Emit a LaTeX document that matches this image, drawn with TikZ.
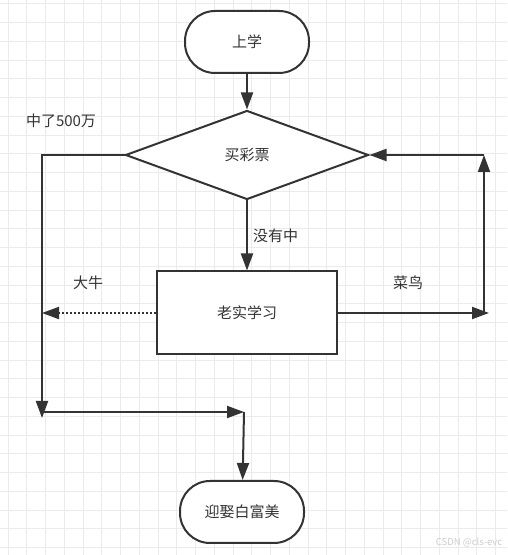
\documentclass[tikz,border=0pt]{standalone}
\usepackage{fontspec}
\newfontfamily\cjk{Noto Sans CJK SC}
\usetikzlibrary{shapes.geometric,arrows.meta,positioning}
\definecolor{ink}{HTML}{333333}
\definecolor{gridc}{HTML}{EBEBEB}
\begin{document}
\begin{tikzpicture}[
    x=1pt, y=1pt,
    every node/.style={font=\cjk\fontsize{15}{18}\selectfont, text=ink},
    term/.style={draw=ink, line width=2pt, fill=white, rounded corners=30pt, minimum width=124pt, minimum height=62pt, inner sep=0pt},
    decide/.style={draw=ink, line width=2pt, fill=white, diamond, minimum width=243pt, minimum height=89pt, inner sep=0pt},
    proc/.style={draw=ink, line width=2pt, fill=white, minimum width=180pt, minimum height=83pt, inner sep=0pt},
    arr/.style={draw=ink, line width=2pt, -{Triangle[length=17pt, width=12pt]}},
    dotarr/.style={arr, dotted},
    lbl/.style={inner sep=1pt},
  ]
    \useasboundingbox (0,0) rectangle (507,555);
    \fill[white] (0,0) rectangle (507,555);

    % background grid
    \foreach \k in {0,...,26} {
      \draw[gridc, line width=1pt] (8+18.75*\k, 0) -- (8+18.75*\k, 555);
    }
    \foreach \k in {0,...,29} {
      \draw[gridc, line width=1pt] (0, 551-18.75*\k) -- (507, 551-18.75*\k);
    }

    % === nodes ===
    \node[term] (start) at (247, 513) {上学};
    \node[decide] (lotto) at (247, 400) {买彩票};
    \node[proc] (study) at (247, 242) {老实学习};
    \node[term] (marry) at (242, 43) {迎娶白富美};

    % bend points
    \coordinate (cl) at (42, 400);
    \coordinate (cdown) at (42, 137);
    \coordinate (cbend) at (42, 143);
    \coordinate (cjoin) at (244, 143);
    \coordinate (cright) at (489, 242);
    \coordinate (ccorner) at (484, 242);
    \coordinate (cup) at (484, 400);
    \coordinate (cdot) at (42, 242);

    % === connectors ===
    \draw[arr] (start) -- (lotto);
    \draw[arr] (lotto) -- node[lbl, right=4pt] {没有中} (study);
    \draw[arr] (lotto.west) -- (cl) -- (cdown);
    \draw[arr] (cbend) -- (cjoin);
    \draw[arr] (cjoin) -- (marry);
    \draw[dotarr] (study.west) -- (cdot);
    \draw[arr] (study.east) -- (cright);
    \draw[arr] (ccorner) -- (cup);
    \draw[arr] (cup) -- (lotto.east);

    % === labels ===
    \node[lbl] (win) at (61, 434) {中了500万};
    \node[lbl] (pro) at (88, 272) {大牛};
    \node[lbl] (noob) at (408, 272) {菜鸟};

    \node[font=\cjk\fontsize{9.5}{11}\selectfont, text=gray!40] (mark) at (469, 12) {CSDN @cls-evc};
  \end{tikzpicture}
\end{document}
